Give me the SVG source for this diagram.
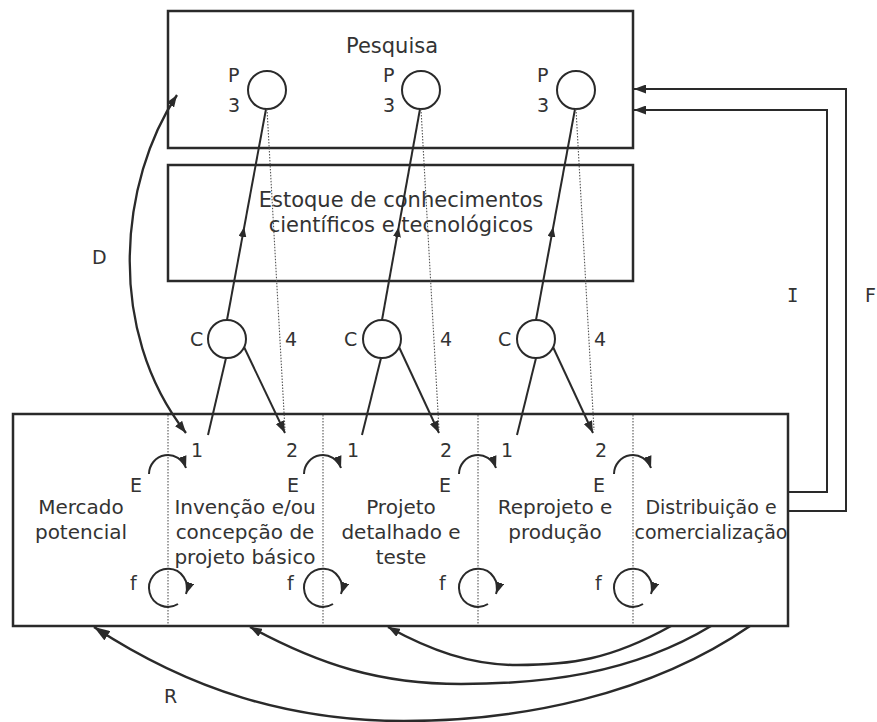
<svg xmlns="http://www.w3.org/2000/svg" width="877" height="722" viewBox="0 0 877 722">
<style>
text{font-family:"DejaVu Sans","Liberation Sans",sans-serif;fill:#333;}
.lbl{font-size:19px;}
.big{font-size:21px;text-anchor:middle;}
.mid{font-size:20px;text-anchor:middle;}
.box{fill:none;stroke:#2a2a2a;stroke-width:2.5;}
.ln{fill:none;stroke:#2a2a2a;stroke-width:2;}
.dot{fill:none;stroke:#555;stroke-width:1.1;stroke-dasharray:1.5 1.5;}
.circ{fill:#fff;stroke:#2a2a2a;stroke-width:2;}
</style>
<defs>
<marker id="ah" viewBox="0 0 12 9" refX="12" refY="4.5" markerWidth="12" markerHeight="9" markerUnits="userSpaceOnUse" orient="auto-start-reverse"><path d="M0,0 L12,4.5 L0,9 z" fill="#2a2a2a"/></marker>
<marker id="ahs" viewBox="0 0 10 8" refX="5" refY="4" markerWidth="10" markerHeight="8" markerUnits="userSpaceOnUse" orient="auto"><path d="M0,0 L10,4 L0,8 z" fill="#2a2a2a"/></marker>
<marker id="ahb" viewBox="0 0 16 11" refX="16" refY="5.5" markerWidth="16" markerHeight="11" markerUnits="userSpaceOnUse" orient="auto"><path d="M0,0 L16,5.5 L0,11 z" fill="#2a2a2a"/></marker>
</defs>

<g id="pesquisa">
<rect class="box" x="168" y="11" width="465" height="137"/>
<text class="big" x="392" y="53">Pesquisa</text>
</g>

<g id="estoque">
<rect class="box" x="168" y="165" width="465" height="116"/>
<text class="big" x="401" y="207">Estoque de conhecimentos</text>
<text class="big" x="401" y="232">científicos e tecnológicos</text>
</g>

<g id="processo">
<rect class="box" x="13" y="414" width="775" height="212"/>
<g class="dot">
<line x1="168" y1="415" x2="168" y2="625"/>
<line x1="323" y1="415" x2="323" y2="625"/>
<line x1="478" y1="415" x2="478" y2="625"/>
<line x1="633" y1="415" x2="633" y2="625"/>
</g>
<text class="mid" x="81" y="514">Mercado</text>
<text class="mid" x="81" y="539">potencial</text>
<text class="mid" x="245" y="514">Invenção e/ou</text>
<text class="mid" x="245" y="539">concepção de</text>
<text class="mid" x="245" y="564">projeto básico</text>
<text class="mid" x="401" y="514">Projeto</text>
<text class="mid" x="401" y="539">detalhado e</text>
<text class="mid" x="401" y="564">teste</text>
<text class="mid" x="555" y="514">Reprojeto e</text>
<text class="mid" x="555" y="539">produção</text>
<text class="mid" x="711" y="514" style="font-size:19px">Distribuição e</text>
<text class="mid" x="711" y="539" style="font-size:19px">comercialização</text>
</g>

<g id="p1"><circle class="circ" cx="267" cy="90" r="19"/><text class="lbl" x="228" y="82">P</text><text class="lbl" x="228" y="112">3</text></g>
<g id="p2"><circle class="circ" cx="421" cy="90" r="19"/><text class="lbl" x="383" y="82">P</text><text class="lbl" x="383" y="112">3</text></g>
<g id="p3"><circle class="circ" cx="576" cy="90" r="19"/><text class="lbl" x="537" y="82">P</text><text class="lbl" x="537" y="112">3</text></g>

<g id="c1"><circle class="circ" cx="227" cy="339" r="19"/><text class="lbl" x="190" y="346">C</text><text class="lbl" x="285" y="346">4</text></g>
<g id="c2"><circle class="circ" cx="382" cy="339" r="19"/><text class="lbl" x="344" y="346">C</text><text class="lbl" x="440" y="346">4</text></g>
<g id="c3"><circle class="circ" cx="536" cy="339" r="19"/><text class="lbl" x="498" y="346">C</text><text class="lbl" x="594" y="346">4</text></g>

<g id="labels">
<text class="lbl" x="191" y="457">1</text><text class="lbl" x="286" y="457">2</text>
<text class="lbl" x="347" y="457">1</text><text class="lbl" x="440" y="457">2</text>
<text class="lbl" x="501" y="457">1</text><text class="lbl" x="595" y="457">2</text>
<text class="lbl" x="130" y="492">E</text><text class="lbl" x="287" y="492">E</text>
<text class="lbl" x="439" y="492">E</text><text class="lbl" x="593" y="492">E</text>
<text class="lbl" x="130" y="590">f</text><text class="lbl" x="287" y="590">f</text>
<text class="lbl" x="439" y="590">f</text><text class="lbl" x="595" y="590">f</text>
<text class="lbl" x="92" y="264">D</text>
<text class="lbl" x="164" y="703">R</text>
<text class="lbl" x="787" y="302" style="font-family:'DejaVu Sans Mono','Liberation Mono',monospace">I</text>
<text class="lbl" x="865" y="302">F</text>
</g>

<g id="connectors">
<path class="ln" d="M227,320 L243.3,232" marker-end="url(#ahs)"/>
<path class="ln" d="M243.3,232 L266,109"/>
<path class="ln" d="M382,320 L397.8,232" marker-end="url(#ahs)"/>
<path class="ln" d="M397.8,232 L420,109"/>
<path class="ln" d="M536,320 L552.3,232" marker-end="url(#ahs)"/>
<path class="ln" d="M552.3,232 L575,109"/>
<path class="dot" d="M267,109 L285,430"/>
<path class="dot" d="M421,109 L439,430"/>
<path class="dot" d="M576,109 L594,430"/>
<path class="ln" d="M226,358 L208,435"/>
<path class="ln" d="M381,358 L362,435"/>
<path class="ln" d="M536,358 L517,435"/>
<path class="ln" d="M244,347 L285,433" marker-end="url(#ah)"/>
<path class="ln" d="M399,347 L439,433" marker-end="url(#ah)"/>
<path class="ln" d="M553,347 L593,433" marker-end="url(#ah)"/>
<path class="ln" d="M149,474 A19,19 0 0 1 186,468" marker-end="url(#ah)"/>
<path class="ln" d="M304,474 A19,19 0 0 1 341,468" marker-end="url(#ah)"/>
<path class="ln" d="M459,474 A19,19 0 0 1 496,468" marker-end="url(#ah)"/>
<path class="ln" d="M614,474 A19,19 0 0 1 651,468" marker-end="url(#ah)"/>
<path class="ln" d="M178,604 A19,19 0 1 1 186,594" marker-end="url(#ah)"/>
<path class="ln" d="M333,604 A19,19 0 1 1 341,594" marker-end="url(#ah)"/>
<path class="ln" d="M488,604 A19,19 0 1 1 496,594" marker-end="url(#ah)"/>
<path class="ln" d="M643,604 A19,19 0 1 1 651,594" marker-end="url(#ah)"/>
<path class="ln" d="M177,95 C120,180 105,330 186,433" marker-start="url(#ah)" marker-end="url(#ah)" style="stroke-width:2.3"/>
<path class="ln" d="M788,492 L827,492 L827,110 L634,110" marker-end="url(#ah)"/>
<path class="ln" d="M788,511 L846,511 L846,89 L634,89" marker-end="url(#ah)"/>
<path class="ln" d="M671,626 C610,660 570,665 517,665 C470,665 430,650 388,627" marker-end="url(#ah)" style="stroke-width:2.5"/>
<path class="ln" d="M711,626 C630,675 540,684 461,684 C380,684 320,665 250,627" marker-end="url(#ah)" style="stroke-width:2.5"/>
<path class="ln" d="M750,626 C650,695 520,721 404,721 C290,721 190,690 94,627" marker-end="url(#ahb)" style="stroke-width:2.5"/>
</g>
</svg>
